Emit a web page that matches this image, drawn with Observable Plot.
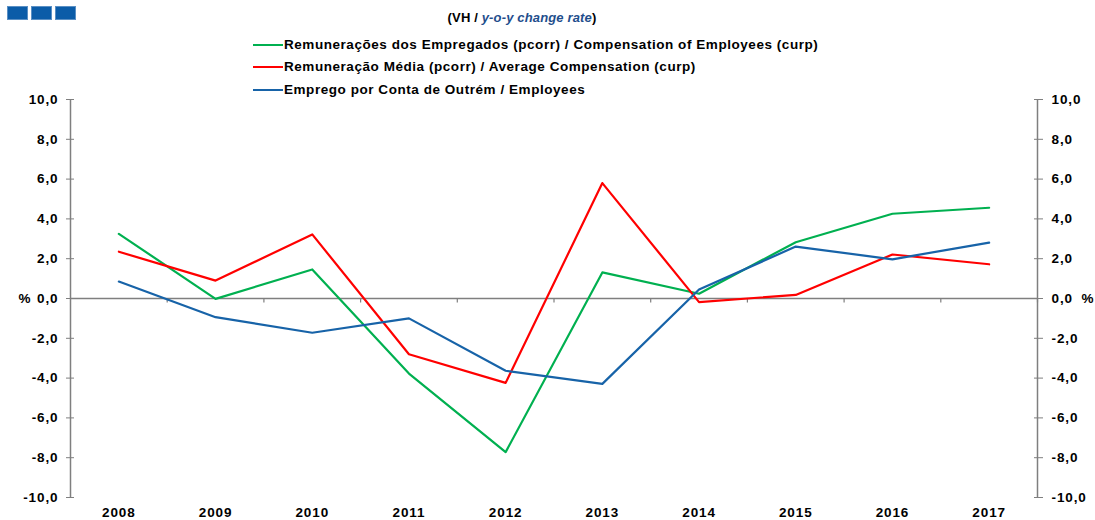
<!DOCTYPE html>
<html>
<head>
<meta charset="utf-8">
<script src="https://cdn.jsdelivr.net/npm/d3@7"></script>
<script src="https://cdn.jsdelivr.net/npm/@observablehq/plot@0.6"></script>
<style>
  html, body { margin: 0; padding: 0; background: #fff; width: 1095px; height: 520px; overflow: hidden; }
  body { font-family: "Liberation Sans", Arial, sans-serif; font-weight: bold; color: #000; }
  #header { position: relative; height: 92px; }
  .sq { position: absolute; top: 6px; width: 21px; height: 14px; background: #0b5ca8; border: 0.5px solid #5a8fc4; box-sizing: border-box; }
  #title { position: absolute; left: 0; width: 1044px; top: 10px; text-align: center; font-size: 13px; line-height: 15px; letter-spacing: 0.15px; }
  #title span { color: #1f4e8c; font-style: italic; }
  .leg { position: absolute; left: 253px; font-size: 13.5px; line-height: 16px; letter-spacing: 0.55px; white-space: nowrap; display: flex; align-items: center; }
  .leg i { display: inline-block; width: 30px; height: 2px; margin-right: 1px; }
  #chart { display: block; }
</style>
</head>
<body>
<div id="header">
  <div class="sq" style="left:7px"></div>
  <div class="sq" style="left:31px"></div>
  <div class="sq" style="left:55px"></div>
  <div id="title">(VH / <span>y-o-y change rate</span>)</div>
  <div id="legend"></div>
</div>
<div id="chart"></div>
<script>
const years = [2008, 2009, 2010, 2011, 2012, 2013, 2014, 2015, 2016, 2017];
const compEmployees = [3.25, -0.02, 1.46, -3.77, -7.72, 1.31, 0.24, 2.83, 4.26, 4.56];
const avgCompensation = [2.35, 0.90, 3.22, -2.80, -4.24, 5.80, -0.18, 0.18, 2.21, 1.72];
const employees = [0.85, -0.94, -1.72, -1.00, -3.63, -4.29, 0.45, 2.61, 1.97, 2.81];
const seriesNames = [
  "Remunerações dos Empregados (pcorr) / Compensation of Employees (curp)",
  "Remuneração Média (pcorr) / Average Compensation (curp)",
  "Emprego por Conta de Outrém / Employees"
];
const seriesColors = ["#00b050", "#ff0000", "#1763a8"];
const yTicks = [-10, -8, -6, -4, -2, 0, 2, 4, 6, 8, 10];

const seriesValues = [compEmployees, avgCompensation, employees];
const rows = [];
seriesNames.forEach((name, i) => {
  years.forEach((yr, j) => rows.push({series: name, year: yr, value: seriesValues[i][j]}));
});

// legend
const legend = document.getElementById("legend");
const legTops = [37, 59, 82];
seriesNames.forEach((name, i) => {
  const d = document.createElement("div");
  d.className = "leg";
  d.style.top = legTops[i] + "px";
  d.innerHTML = `<i style="background:${seriesColors[i]}"></i><span></span>`;
  d.querySelector("span").textContent = name;
  legend.appendChild(d);
});

const xDomain = [years[0] - 0.5, years[years.length - 1] + 0.5];
const boundaries = years.slice(1).map(y => y - 0.5).concat([xDomain[1]]);
const fmt = d => d.toFixed(1).replace(".", ",");
const axisGray = "#7f7f7f";

const chart = Plot.plot({
  width: 1095,
  height: 428,
  marginTop: 7,
  marginBottom: 23,
  marginLeft: 70,
  marginRight: 58,
  style: {fontFamily: "'Liberation Sans', Arial, sans-serif", fontSize: "13.5px", fontWeight: "bold", letterSpacing: "0.9px", color: "#000", background: "transparent"},
  x: {type: "linear", domain: xDomain, axis: null},
  y: {domain: [-10, 10], axis: null},
  color: {domain: seriesNames, range: seriesColors},
  marks: [
    Plot.ruleX([xDomain[0], xDomain[1]], {stroke: axisGray, strokeWidth: 1.5}),
    Plot.ruleY([0], {stroke: axisGray, strokeWidth: 1.5}),
    Plot.ruleX(boundaries, {x: d => d, y1: 0, y2: -0.22, stroke: axisGray, strokeWidth: 1.2}),
    Plot.axisY({anchor: "left", ticks: yTicks, tickFormat: fmt, tickSize: 8, dx: 4, tickPadding: 8, stroke: axisGray, fill: "#000", label: null}),
    Plot.axisY({anchor: "right", ticks: yTicks, tickFormat: fmt, tickSize: 9, dx: -4, tickPadding: 9, stroke: axisGray, fill: "#000", label: null}),
    Plot.axisX({anchor: "bottom", ticks: years, tickFormat: "d", tickSize: 0, tickPadding: 10, fill: "#000", label: null}),
    Plot.text(["%"], {y: () => 0, frameAnchor: "left", dx: -52, fill: "#000", fontSize: 13.5}),
    Plot.text(["%"], {y: () => 0, frameAnchor: "right", dx: 44, textAnchor: "start", fill: "#000", fontSize: 13.5}),
    Plot.line(rows, {x: "year", y: "value", z: "series", stroke: "series", strokeWidth: 2.2})
  ]
});
document.getElementById("chart").appendChild(chart);
</script>
</body>
</html>
